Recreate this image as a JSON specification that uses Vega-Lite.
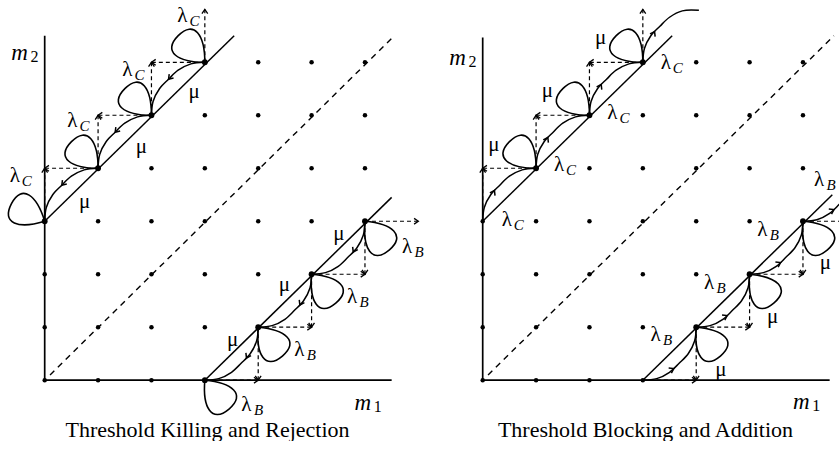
{
"$schema": "https://vega.github.io/schema/vega-lite/v6.json",
"background": "white",
"padding": {"left": 2, "top": 4, "right": 0, "bottom": 0},
"config": {"view": {"stroke": null}, "font": "Liberation Serif"},
"spacing": 16,
"data": {"values": [
{"panel":"L","kind":"axis","m1":0,"m2":0,"m1_end":6.5,"m2_end":0},
{"panel":"L","kind":"axis","m1":0,"m2":0,"m1_end":0,"m2_end":6.5},
{"panel":"R","kind":"axis","m1":0,"m2":0,"m1_end":6.5,"m2_end":0},
{"panel":"R","kind":"axis","m1":0,"m2":0,"m1_end":0,"m2_end":6.47},
{"panel":"L","kind":"bound","m1":0,"m2":3,"m1_end":3.55,"m2_end":6.5},
{"panel":"L","kind":"bound","m1":3,"m2":0,"m1_end":6.5,"m2_end":3.45},
{"panel":"R","kind":"bound","m1":0,"m2":3,"m1_end":3.55,"m2_end":6.5},
{"panel":"R","kind":"bound","m1":3,"m2":0,"m1_end":6.55,"m2_end":3.5},
{"panel":"L","kind":"diag","m1":0.1,"m2":0.1,"m1_end":6.55,"m2_end":6.5},
{"panel":"R","kind":"diag","m1":0.1,"m2":0.1,"m1_end":6.58,"m2_end":6.5},

{"panel":"L","kind":"dash","m1":0,"m2":3,"m1_end":0,"m2_end":4,"dir":"n"},
{"panel":"L","kind":"dash","m1":1,"m2":4,"m1_end":0,"m2_end":4,"dir":"w"},
{"panel":"L","kind":"dash","m1":1,"m2":4,"m1_end":1,"m2_end":5,"dir":"n"},
{"panel":"L","kind":"dash","m1":2,"m2":5,"m1_end":1,"m2_end":5,"dir":"w"},
{"panel":"L","kind":"dash","m1":2,"m2":5,"m1_end":2,"m2_end":6,"dir":"n"},
{"panel":"L","kind":"dash","m1":3,"m2":6,"m1_end":2,"m2_end":6,"dir":"w"},
{"panel":"L","kind":"dash","m1":3,"m2":6,"m1_end":3,"m2_end":7,"dir":"n"},
{"panel":"L","kind":"dash","m1":3,"m2":0,"m1_end":4,"m2_end":0,"dir":"e"},
{"panel":"L","kind":"dash","m1":4,"m2":1,"m1_end":4,"m2_end":0,"dir":"s"},
{"panel":"L","kind":"dash","m1":4,"m2":1,"m1_end":5,"m2_end":1,"dir":"e"},
{"panel":"L","kind":"dash","m1":5,"m2":2,"m1_end":5,"m2_end":1,"dir":"s"},
{"panel":"L","kind":"dash","m1":5,"m2":2,"m1_end":6,"m2_end":2,"dir":"e"},
{"panel":"L","kind":"dash","m1":6,"m2":3,"m1_end":6,"m2_end":2,"dir":"s"},
{"panel":"L","kind":"dash","m1":6,"m2":3,"m1_end":7,"m2_end":3,"dir":"e"},
{"panel":"R","kind":"dash","m1":0,"m2":3,"m1_end":0,"m2_end":4,"dir":"n"},
{"panel":"R","kind":"dash","m1":1,"m2":4,"m1_end":0,"m2_end":4,"dir":"w"},
{"panel":"R","kind":"dash","m1":1,"m2":4,"m1_end":1,"m2_end":5,"dir":"n"},
{"panel":"R","kind":"dash","m1":2,"m2":5,"m1_end":1,"m2_end":5,"dir":"w"},
{"panel":"R","kind":"dash","m1":2,"m2":5,"m1_end":2,"m2_end":6,"dir":"n"},
{"panel":"R","kind":"dash","m1":3,"m2":6,"m1_end":2,"m2_end":6,"dir":"w"},
{"panel":"R","kind":"dash","m1":3,"m2":6,"m1_end":3,"m2_end":7,"dir":"n"},
{"panel":"R","kind":"dash","m1":3,"m2":0,"m1_end":4,"m2_end":0,"dir":"e"},
{"panel":"R","kind":"dash","m1":4,"m2":1,"m1_end":4,"m2_end":0,"dir":"s"},
{"panel":"R","kind":"dash","m1":4,"m2":1,"m1_end":5,"m2_end":1,"dir":"e"},
{"panel":"R","kind":"dash","m1":5,"m2":2,"m1_end":5,"m2_end":1,"dir":"s"},
{"panel":"R","kind":"dash","m1":5,"m2":2,"m1_end":6,"m2_end":2,"dir":"e"},
{"panel":"R","kind":"dash","m1":6,"m2":3,"m1_end":6,"m2_end":2,"dir":"s"},
{"panel":"R","kind":"dash","m1":6,"m2":3,"m1_end":7,"m2_end":3,"dir":"e"},

{"panel":"L","kind":"arc","edge":"LU1","step":0,"m1":1,"m2":4},
{"panel":"L","kind":"arc","edge":"LU1","step":1,"m1":0.74,"m2":3.97},
{"panel":"L","kind":"arc","edge":"LU1","step":2,"m1":0.5,"m2":3.85},
{"panel":"L","kind":"arc","edge":"LU1","step":3,"m1":0.32,"m2":3.68},
{"panel":"L","kind":"arc","edge":"LU1","step":4,"m1":0.15,"m2":3.5},
{"panel":"L","kind":"arc","edge":"LU1","step":5,"m1":0.03,"m2":3.26},
{"panel":"L","kind":"arc","edge":"LU1","step":6,"m1":0,"m2":3},
{"panel":"L","kind":"arc","edge":"LU2","step":0,"m1":2,"m2":5},
{"panel":"L","kind":"arc","edge":"LU2","step":1,"m1":1.74,"m2":4.97},
{"panel":"L","kind":"arc","edge":"LU2","step":2,"m1":1.5,"m2":4.85},
{"panel":"L","kind":"arc","edge":"LU2","step":3,"m1":1.32,"m2":4.68},
{"panel":"L","kind":"arc","edge":"LU2","step":4,"m1":1.15,"m2":4.5},
{"panel":"L","kind":"arc","edge":"LU2","step":5,"m1":1.03,"m2":4.26},
{"panel":"L","kind":"arc","edge":"LU2","step":6,"m1":1,"m2":4},
{"panel":"L","kind":"arc","edge":"LU3","step":0,"m1":3,"m2":6},
{"panel":"L","kind":"arc","edge":"LU3","step":1,"m1":2.74,"m2":5.97},
{"panel":"L","kind":"arc","edge":"LU3","step":2,"m1":2.5,"m2":5.85},
{"panel":"L","kind":"arc","edge":"LU3","step":3,"m1":2.32,"m2":5.68},
{"panel":"L","kind":"arc","edge":"LU3","step":4,"m1":2.15,"m2":5.5},
{"panel":"L","kind":"arc","edge":"LU3","step":5,"m1":2.03,"m2":5.26},
{"panel":"L","kind":"arc","edge":"LU3","step":6,"m1":2,"m2":5},
{"panel":"L","kind":"arc","edge":"LB1","step":0,"m1":4,"m2":1},
{"panel":"L","kind":"arc","edge":"LB1","step":1,"m1":3.97,"m2":0.74},
{"panel":"L","kind":"arc","edge":"LB1","step":2,"m1":3.85,"m2":0.5},
{"panel":"L","kind":"arc","edge":"LB1","step":3,"m1":3.68,"m2":0.32},
{"panel":"L","kind":"arc","edge":"LB1","step":4,"m1":3.5,"m2":0.15},
{"panel":"L","kind":"arc","edge":"LB1","step":5,"m1":3.26,"m2":0.03},
{"panel":"L","kind":"arc","edge":"LB1","step":6,"m1":3,"m2":0},
{"panel":"L","kind":"arc","edge":"LB2","step":0,"m1":5,"m2":2},
{"panel":"L","kind":"arc","edge":"LB2","step":1,"m1":4.97,"m2":1.74},
{"panel":"L","kind":"arc","edge":"LB2","step":2,"m1":4.85,"m2":1.5},
{"panel":"L","kind":"arc","edge":"LB2","step":3,"m1":4.68,"m2":1.32},
{"panel":"L","kind":"arc","edge":"LB2","step":4,"m1":4.5,"m2":1.15},
{"panel":"L","kind":"arc","edge":"LB2","step":5,"m1":4.26,"m2":1.03},
{"panel":"L","kind":"arc","edge":"LB2","step":6,"m1":4,"m2":1},
{"panel":"L","kind":"arc","edge":"LB3","step":0,"m1":6,"m2":3},
{"panel":"L","kind":"arc","edge":"LB3","step":1,"m1":5.97,"m2":2.74},
{"panel":"L","kind":"arc","edge":"LB3","step":2,"m1":5.85,"m2":2.5},
{"panel":"L","kind":"arc","edge":"LB3","step":3,"m1":5.68,"m2":2.32},
{"panel":"L","kind":"arc","edge":"LB3","step":4,"m1":5.5,"m2":2.15},
{"panel":"L","kind":"arc","edge":"LB3","step":5,"m1":5.26,"m2":2.03},
{"panel":"L","kind":"arc","edge":"LB3","step":6,"m1":5,"m2":2},
{"panel":"R","kind":"arc","edge":"RU1","step":0,"m1":1,"m2":4},
{"panel":"R","kind":"arc","edge":"RU1","step":1,"m1":0.74,"m2":3.97},
{"panel":"R","kind":"arc","edge":"RU1","step":2,"m1":0.5,"m2":3.85},
{"panel":"R","kind":"arc","edge":"RU1","step":3,"m1":0.32,"m2":3.68},
{"panel":"R","kind":"arc","edge":"RU1","step":4,"m1":0.15,"m2":3.5},
{"panel":"R","kind":"arc","edge":"RU1","step":5,"m1":0.03,"m2":3.26},
{"panel":"R","kind":"arc","edge":"RU1","step":6,"m1":0,"m2":3},
{"panel":"R","kind":"arc","edge":"RU2","step":0,"m1":2,"m2":5},
{"panel":"R","kind":"arc","edge":"RU2","step":1,"m1":1.74,"m2":4.97},
{"panel":"R","kind":"arc","edge":"RU2","step":2,"m1":1.5,"m2":4.85},
{"panel":"R","kind":"arc","edge":"RU2","step":3,"m1":1.32,"m2":4.68},
{"panel":"R","kind":"arc","edge":"RU2","step":4,"m1":1.15,"m2":4.5},
{"panel":"R","kind":"arc","edge":"RU2","step":5,"m1":1.03,"m2":4.26},
{"panel":"R","kind":"arc","edge":"RU2","step":6,"m1":1,"m2":4},
{"panel":"R","kind":"arc","edge":"RU3","step":0,"m1":3,"m2":6},
{"panel":"R","kind":"arc","edge":"RU3","step":1,"m1":2.74,"m2":5.97},
{"panel":"R","kind":"arc","edge":"RU3","step":2,"m1":2.5,"m2":5.85},
{"panel":"R","kind":"arc","edge":"RU3","step":3,"m1":2.32,"m2":5.68},
{"panel":"R","kind":"arc","edge":"RU3","step":4,"m1":2.15,"m2":5.5},
{"panel":"R","kind":"arc","edge":"RU3","step":5,"m1":2.03,"m2":5.26},
{"panel":"R","kind":"arc","edge":"RU3","step":6,"m1":2,"m2":5},
{"panel":"R","kind":"arc","edge":"RU4","step":0,"m1":4.05,"m2":6.98},
{"panel":"R","kind":"arc","edge":"RU4","step":1,"m1":3.74,"m2":6.97},
{"panel":"R","kind":"arc","edge":"RU4","step":2,"m1":3.5,"m2":6.85},
{"panel":"R","kind":"arc","edge":"RU4","step":3,"m1":3.32,"m2":6.68},
{"panel":"R","kind":"arc","edge":"RU4","step":4,"m1":3.15,"m2":6.5},
{"panel":"R","kind":"arc","edge":"RU4","step":5,"m1":3.03,"m2":6.26},
{"panel":"R","kind":"arc","edge":"RU4","step":6,"m1":3,"m2":6},
{"panel":"R","kind":"arc","edge":"RB1","step":0,"m1":4,"m2":1},
{"panel":"R","kind":"arc","edge":"RB1","step":1,"m1":3.97,"m2":0.74},
{"panel":"R","kind":"arc","edge":"RB1","step":2,"m1":3.85,"m2":0.5},
{"panel":"R","kind":"arc","edge":"RB1","step":3,"m1":3.68,"m2":0.32},
{"panel":"R","kind":"arc","edge":"RB1","step":4,"m1":3.5,"m2":0.15},
{"panel":"R","kind":"arc","edge":"RB1","step":5,"m1":3.26,"m2":0.03},
{"panel":"R","kind":"arc","edge":"RB1","step":6,"m1":3,"m2":0},
{"panel":"R","kind":"arc","edge":"RB2","step":0,"m1":5,"m2":2},
{"panel":"R","kind":"arc","edge":"RB2","step":1,"m1":4.97,"m2":1.74},
{"panel":"R","kind":"arc","edge":"RB2","step":2,"m1":4.85,"m2":1.5},
{"panel":"R","kind":"arc","edge":"RB2","step":3,"m1":4.68,"m2":1.32},
{"panel":"R","kind":"arc","edge":"RB2","step":4,"m1":4.5,"m2":1.15},
{"panel":"R","kind":"arc","edge":"RB2","step":5,"m1":4.26,"m2":1.03},
{"panel":"R","kind":"arc","edge":"RB2","step":6,"m1":4,"m2":1},
{"panel":"R","kind":"arc","edge":"RB3","step":0,"m1":6,"m2":3},
{"panel":"R","kind":"arc","edge":"RB3","step":1,"m1":5.97,"m2":2.74},
{"panel":"R","kind":"arc","edge":"RB3","step":2,"m1":5.85,"m2":2.5},
{"panel":"R","kind":"arc","edge":"RB3","step":3,"m1":5.68,"m2":2.32},
{"panel":"R","kind":"arc","edge":"RB3","step":4,"m1":5.5,"m2":2.15},
{"panel":"R","kind":"arc","edge":"RB3","step":5,"m1":5.26,"m2":2.03},
{"panel":"R","kind":"arc","edge":"RB3","step":6,"m1":5,"m2":2},
{"panel":"R","kind":"arc","edge":"RB4","step":0,"m1":7,"m2":4},
{"panel":"R","kind":"arc","edge":"RB4","step":1,"m1":6.97,"m2":3.74},
{"panel":"R","kind":"arc","edge":"RB4","step":2,"m1":6.85,"m2":3.5},
{"panel":"R","kind":"arc","edge":"RB4","step":3,"m1":6.68,"m2":3.32},
{"panel":"R","kind":"arc","edge":"RB4","step":4,"m1":6.5,"m2":3.15},
{"panel":"R","kind":"arc","edge":"RB4","step":5,"m1":6.26,"m2":3.03},
{"panel":"R","kind":"arc","edge":"RB4","step":6,"m1":6,"m2":3},

{"panel":"L","kind":"arrow","m1":0.32,"m2":3.68,"dir":"sw"},
{"panel":"L","kind":"arrow","m1":1.32,"m2":4.68,"dir":"sw"},
{"panel":"L","kind":"arrow","m1":2.32,"m2":5.68,"dir":"sw"},
{"panel":"L","kind":"arrow","m1":3.78,"m2":0.42,"dir":"ssw"},
{"panel":"L","kind":"arrow","m1":4.78,"m2":1.42,"dir":"ssw"},
{"panel":"L","kind":"arrow","m1":5.78,"m2":2.42,"dir":"ssw"},
{"panel":"R","kind":"arrow","m1":0.22,"m2":3.58,"dir":"nne"},
{"panel":"R","kind":"arrow","m1":1.22,"m2":4.58,"dir":"nne"},
{"panel":"R","kind":"arrow","m1":2.22,"m2":5.58,"dir":"nne"},
{"panel":"R","kind":"arrow","m1":3.22,"m2":6.58,"dir":"nne"},
{"panel":"R","kind":"arrow","m1":3.58,"m2":0.22,"dir":"ene"},
{"panel":"R","kind":"arrow","m1":4.58,"m2":1.22,"dir":"ene"},
{"panel":"R","kind":"arrow","m1":5.58,"m2":2.22,"dir":"ene"},
{"panel":"R","kind":"arrow","m1":6.58,"m2":3.22,"dir":"ene"},

{"panel":"L","kind":"loop","m1":0,"m2":3,"dir":"wnw"},
{"panel":"L","kind":"loop","m1":1,"m2":4,"dir":"nw"},
{"panel":"L","kind":"loop","m1":2,"m2":5,"dir":"nw"},
{"panel":"L","kind":"loop","m1":3,"m2":6,"dir":"nw"},
{"panel":"L","kind":"loop","m1":3,"m2":0,"dir":"se"},
{"panel":"L","kind":"loop","m1":4,"m2":1,"dir":"se"},
{"panel":"L","kind":"loop","m1":5,"m2":2,"dir":"se"},
{"panel":"L","kind":"loop","m1":6,"m2":3,"dir":"se"},
{"panel":"R","kind":"loop","m1":1,"m2":4,"dir":"nw"},
{"panel":"R","kind":"loop","m1":2,"m2":5,"dir":"nw"},
{"panel":"R","kind":"loop","m1":3,"m2":6,"dir":"nw"},
{"panel":"R","kind":"loop","m1":4,"m2":1,"dir":"se"},
{"panel":"R","kind":"loop","m1":5,"m2":2,"dir":"se"},
{"panel":"R","kind":"loop","m1":6,"m2":3,"dir":"se"},

{"panel":"L","kind":"dot","m1":0,"m2":0},{"panel":"L","kind":"dot","m1":0,"m2":1},{"panel":"L","kind":"dot","m1":0,"m2":2},{"panel":"L","kind":"dot","m1":0,"m2":3},
{"panel":"L","kind":"dot","m1":1,"m2":0},{"panel":"L","kind":"dot","m1":1,"m2":1},{"panel":"L","kind":"dot","m1":1,"m2":2},{"panel":"L","kind":"dot","m1":1,"m2":3},{"panel":"L","kind":"dot","m1":1,"m2":4},
{"panel":"L","kind":"dot","m1":2,"m2":0},{"panel":"L","kind":"dot","m1":2,"m2":1},{"panel":"L","kind":"dot","m1":2,"m2":2},{"panel":"L","kind":"dot","m1":2,"m2":3},{"panel":"L","kind":"dot","m1":2,"m2":4},{"panel":"L","kind":"dot","m1":2,"m2":5},
{"panel":"L","kind":"dot","m1":3,"m2":0},{"panel":"L","kind":"dot","m1":3,"m2":1},{"panel":"L","kind":"dot","m1":3,"m2":2},{"panel":"L","kind":"dot","m1":3,"m2":3},{"panel":"L","kind":"dot","m1":3,"m2":4},{"panel":"L","kind":"dot","m1":3,"m2":5},{"panel":"L","kind":"dot","m1":3,"m2":6},
{"panel":"L","kind":"dot","m1":4,"m2":1},{"panel":"L","kind":"dot","m1":4,"m2":2},{"panel":"L","kind":"dot","m1":4,"m2":3},{"panel":"L","kind":"dot","m1":4,"m2":4},{"panel":"L","kind":"dot","m1":4,"m2":5},{"panel":"L","kind":"dot","m1":4,"m2":6},
{"panel":"L","kind":"dot","m1":5,"m2":2},{"panel":"L","kind":"dot","m1":5,"m2":3},{"panel":"L","kind":"dot","m1":5,"m2":4},{"panel":"L","kind":"dot","m1":5,"m2":5},{"panel":"L","kind":"dot","m1":5,"m2":6},
{"panel":"L","kind":"dot","m1":6,"m2":3},{"panel":"L","kind":"dot","m1":6,"m2":4},{"panel":"L","kind":"dot","m1":6,"m2":5},{"panel":"L","kind":"dot","m1":6,"m2":6},
{"panel":"R","kind":"dot","m1":0,"m2":0},{"panel":"R","kind":"dot","m1":0,"m2":1},{"panel":"R","kind":"dot","m1":0,"m2":2},{"panel":"R","kind":"dot","m1":0,"m2":3},
{"panel":"R","kind":"dot","m1":1,"m2":0},{"panel":"R","kind":"dot","m1":1,"m2":1},{"panel":"R","kind":"dot","m1":1,"m2":2},{"panel":"R","kind":"dot","m1":1,"m2":3},{"panel":"R","kind":"dot","m1":1,"m2":4},
{"panel":"R","kind":"dot","m1":2,"m2":0},{"panel":"R","kind":"dot","m1":2,"m2":1},{"panel":"R","kind":"dot","m1":2,"m2":2},{"panel":"R","kind":"dot","m1":2,"m2":3},{"panel":"R","kind":"dot","m1":2,"m2":4},{"panel":"R","kind":"dot","m1":2,"m2":5},
{"panel":"R","kind":"dot","m1":3,"m2":0},{"panel":"R","kind":"dot","m1":3,"m2":1},{"panel":"R","kind":"dot","m1":3,"m2":2},{"panel":"R","kind":"dot","m1":3,"m2":3},{"panel":"R","kind":"dot","m1":3,"m2":4},{"panel":"R","kind":"dot","m1":3,"m2":5},{"panel":"R","kind":"dot","m1":3,"m2":6},
{"panel":"R","kind":"dot","m1":4,"m2":1},{"panel":"R","kind":"dot","m1":4,"m2":2},{"panel":"R","kind":"dot","m1":4,"m2":3},{"panel":"R","kind":"dot","m1":4,"m2":4},{"panel":"R","kind":"dot","m1":4,"m2":5},{"panel":"R","kind":"dot","m1":4,"m2":6},
{"panel":"R","kind":"dot","m1":5,"m2":2},{"panel":"R","kind":"dot","m1":5,"m2":3},{"panel":"R","kind":"dot","m1":5,"m2":4},{"panel":"R","kind":"dot","m1":5,"m2":5},{"panel":"R","kind":"dot","m1":5,"m2":6},
{"panel":"R","kind":"dot","m1":6,"m2":3},{"panel":"R","kind":"dot","m1":6,"m2":4},{"panel":"R","kind":"dot","m1":6,"m2":5},{"panel":"R","kind":"dot","m1":6,"m2":6},

{"panel":"L","kind":"lab","m1":2.58,"m2":6.87,"sym":"λ","sub":"C"},
{"panel":"L","kind":"lab","m1":1.55,"m2":5.85,"sym":"λ","sub":"C"},
{"panel":"L","kind":"lab","m1":0.52,"m2":4.9,"sym":"λ","sub":"C"},
{"panel":"L","kind":"lab","m1":-0.56,"m2":3.85,"sym":"λ","sub":"C"},
{"panel":"L","kind":"lab","m1":2.8,"m2":5.43,"sym":"μ","sub":""},
{"panel":"L","kind":"lab","m1":1.81,"m2":4.4,"sym":"μ","sub":""},
{"panel":"L","kind":"lab","m1":0.75,"m2":3.36,"sym":"μ","sub":""},
{"panel":"L","kind":"lab","m1":3.78,"m2":-0.47,"sym":"λ","sub":"B"},
{"panel":"L","kind":"lab","m1":4.77,"m2":0.57,"sym":"λ","sub":"B"},
{"panel":"L","kind":"lab","m1":5.76,"m2":1.57,"sym":"λ","sub":"B"},
{"panel":"L","kind":"lab","m1":6.79,"m2":2.51,"sym":"λ","sub":"B"},
{"panel":"L","kind":"lab","m1":3.52,"m2":0.75,"sym":"μ","sub":""},
{"panel":"L","kind":"lab","m1":4.49,"m2":1.79,"sym":"μ","sub":""},
{"panel":"L","kind":"lab","m1":5.51,"m2":2.76,"sym":"μ","sub":""},
{"panel":"R","kind":"lab","m1":0.21,"m2":4.44,"sym":"μ","sub":""},
{"panel":"R","kind":"lab","m1":1.21,"m2":5.45,"sym":"μ","sub":""},
{"panel":"R","kind":"lab","m1":2.21,"m2":6.45,"sym":"μ","sub":""},
{"panel":"R","kind":"lab","m1":0.45,"m2":3.03,"sym":"λ","sub":"C"},
{"panel":"R","kind":"lab","m1":1.43,"m2":4.06,"sym":"λ","sub":"C"},
{"panel":"R","kind":"lab","m1":2.43,"m2":5.05,"sym":"λ","sub":"C"},
{"panel":"R","kind":"lab","m1":3.43,"m2":5.98,"sym":"λ","sub":"C"},
{"panel":"R","kind":"lab","m1":3.24,"m2":0.85,"sym":"λ","sub":"B"},
{"panel":"R","kind":"lab","m1":4.24,"m2":1.83,"sym":"λ","sub":"B"},
{"panel":"R","kind":"lab","m1":5.24,"m2":2.84,"sym":"λ","sub":"B"},
{"panel":"R","kind":"lab","m1":6.3,"m2":3.78,"sym":"λ","sub":"B"},
{"panel":"R","kind":"lab","m1":4.46,"m2":0.19,"sym":"μ","sub":""},
{"panel":"R","kind":"lab","m1":5.43,"m2":1.2,"sym":"μ","sub":""},
{"panel":"R","kind":"lab","m1":6.42,"m2":2.21,"sym":"μ","sub":""},

{"panel":"L","kind":"axlab","m1":-0.47,"m2":6.17,"sym":"m","sub":"2"},
{"panel":"L","kind":"axlab","m1":5.96,"m2":-0.43,"sym":"m","sub":"1"},
{"panel":"R","kind":"axlab","m1":-0.47,"m2":6.08,"sym":"m","sub":"2"},
{"panel":"R","kind":"axlab","m1":5.97,"m2":-0.42,"sym":"m","sub":"1"}
]},
"facet": {"column": {"field": "panel", "type": "nominal", "header": {"title": null, "labelOrient": "bottom", "labelFont": "Liberation Serif", "labelFontSize": 22, "labelColor": "black", "labelPadding": 1, "labelExpr": "datum.value === 'L' ? 'Threshold Killing and Rejection' : 'Threshold Blocking and Addition'"}}},
"spec": {
 "width": 411, "height": 408,
 "encoding": {
  "x": {"field": "m1", "type": "quantitative", "scale": {"domain": [-0.8, 6.9], "nice": false, "zero": false}, "axis": null},
  "y": {"field": "m2", "type": "quantitative", "scale": {"domain": [-0.6, 7.1], "nice": false, "zero": false}, "axis": null}
 },
 "layer": [
  {"transform": [{"filter": "datum.kind === 'axis'"}], "mark": {"type": "rule", "color": "black", "strokeWidth": 1.7}, "encoding": {"x2": {"field": "m1_end"}, "y2": {"field": "m2_end"}}},
  {"transform": [{"filter": "datum.kind === 'bound'"}], "mark": {"type": "rule", "color": "black", "strokeWidth": 1.5}, "encoding": {"x2": {"field": "m1_end"}, "y2": {"field": "m2_end"}}},
  {"transform": [{"filter": "datum.kind === 'diag'"}], "mark": {"type": "rule", "color": "black", "strokeWidth": 1.4, "strokeDash": [6, 5]}, "encoding": {"x2": {"field": "m1_end"}, "y2": {"field": "m2_end"}}},
  {"transform": [{"filter": "datum.kind === 'dash'"}], "mark": {"type": "rule", "color": "black", "strokeWidth": 1.2, "strokeDash": [4, 3]}, "encoding": {"x2": {"field": "m1_end"}, "y2": {"field": "m2_end"}}},
  {"transform": [{"filter": "datum.kind === 'arc'"}], "mark": {"type": "line", "color": "black", "strokeWidth": 1.5, "interpolate": "catmull-rom"}, "encoding": {"detail": {"field": "edge", "type": "nominal"}, "order": {"field": "step", "type": "quantitative"}}},
  {"transform": [{"filter": "datum.kind === 'loop'"}], "mark": {"type": "point", "filled": false, "color": "black", "opacity": 1, "strokeWidth": 1.6, "size": 1225, "shape": "M0,0C-1.1,-1.1,-1.3,-2.15,0,-2.15C1.3,-2.15,1.1,-1.1,0,0"}, "encoding": {"angle": {"field": "dir", "type": "nominal", "legend": null, "scale": {"type": "ordinal", "domain": ["n","e","s","w","sw","ssw","nne","ene","nw","wnw","se"], "range": [0,90,180,270,222,208,28,62,315,298,140]}}}},
  {"transform": [{"filter": "datum.kind === 'dot'"}], "mark": {"type": "circle", "color": "black", "opacity": 1, "size": 20}},
  {"transform": [{"filter": "datum.kind === 'loop'"}], "mark": {"type": "circle", "color": "black", "opacity": 1, "size": 34}},
  {"transform": [{"filter": "datum.kind === 'dash'"}], "mark": {"type": "point", "filled": false, "color": "black", "opacity": 1, "strokeWidth": 1.3, "size": 60, "shape": "M-0.75,1.1L0,0L0.75,1.1"}, "encoding": {"x": {"field": "m1_end", "type": "quantitative"}, "y": {"field": "m2_end", "type": "quantitative"}, "angle": {"field": "dir", "type": "nominal", "legend": null, "scale": {"type": "ordinal", "domain": ["n","e","s","w","sw","ssw","nne","ene","nw","wnw","se"], "range": [0,90,180,270,222,208,28,62,315,298,140]}}}},
  {"transform": [{"filter": "datum.kind === 'arrow'"}], "mark": {"type": "point", "filled": false, "color": "black", "opacity": 1, "strokeWidth": 1.5, "size": 60, "shape": "M-0.75,1.1L0,0L0.75,1.1"}, "encoding": {"angle": {"field": "dir", "type": "nominal", "legend": null, "scale": {"type": "ordinal", "domain": ["n","e","s","w","sw","ssw","nne","ene","nw","wnw","se"], "range": [0,90,180,270,222,208,28,62,315,298,140]}}}},
  {"transform": [{"filter": "datum.kind === 'lab'"}], "mark": {"type": "text", "font": "Liberation Serif", "fontSize": 21, "color": "black", "align": "center", "baseline": "middle"}, "encoding": {"text": {"field": "sym"}}},
  {"transform": [{"filter": "datum.kind === 'lab'"}], "mark": {"type": "text", "font": "Liberation Serif", "fontSize": 15, "fontStyle": "italic", "color": "black", "align": "center", "baseline": "middle", "dx": 12, "dy": 5}, "encoding": {"text": {"field": "sub"}}},
  {"transform": [{"filter": "datum.kind === 'axlab'"}], "mark": {"type": "text", "font": "Liberation Serif", "fontSize": 23, "fontStyle": "italic", "color": "black", "align": "center", "baseline": "middle"}, "encoding": {"text": {"field": "sym"}}},
  {"transform": [{"filter": "datum.kind === 'axlab'"}], "mark": {"type": "text", "font": "Liberation Serif", "fontSize": 16, "color": "black", "align": "center", "baseline": "middle", "dx": 15, "dy": 4}, "encoding": {"text": {"field": "sub"}}}
 ]
}
}
